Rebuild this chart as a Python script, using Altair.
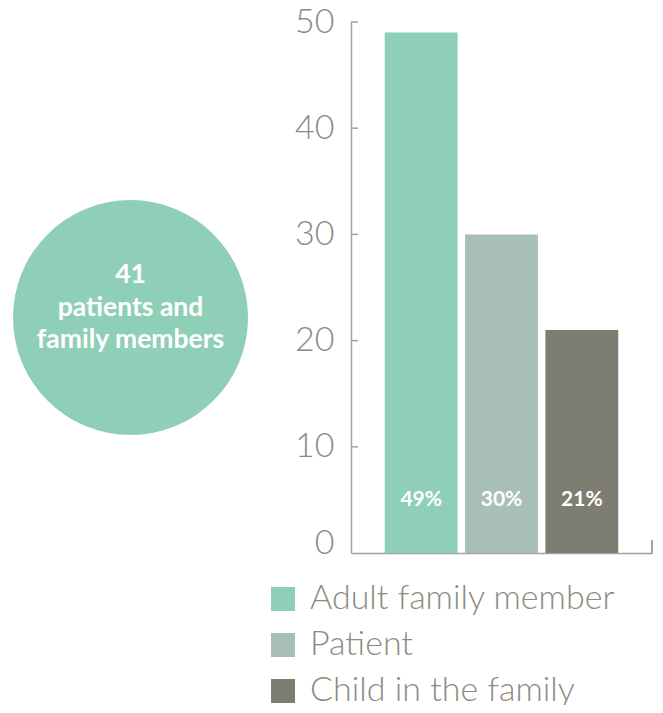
import altair as alt
import pandas as pd

categories = ["Adult family member", "Patient", "Child in the family"]
values = [49, 30, 21]
pct_labels = ["49%", "30%", "21%"]
colors = ["#8fcfb8", "#a8bfb7", "#7e7d71"]
circle_lines = ["41", "patients and", "family members"]
y_ticks = [0, 10, 20, 30, 40, 50]

AXIS_GREY = "#a3a399"
LABEL_GREY = "#8b8b7f"

df = pd.DataFrame({"category": categories, "value": values, "label": pct_labels})
ticks_df = pd.DataFrame({"value": y_ticks[1:]})
circle_df = pd.DataFrame({"caption": ["\n".join(circle_lines)]})

y_axis = alt.Axis(
    values=y_ticks,
    title=None,
    grid=False,
    ticks=False,
    labelPadding=17,
    labelFont="Lato",
    labelFontWeight=300,
    labelFontSize=34,
    labelColor=LABEL_GREY,
    domainColor=AXIS_GREY,
    domainWidth=1.5,
    labelBaseline=alt.condition("datum.value == 0", alt.value("alphabetic"), alt.value("middle")),
)
x_axis = alt.Axis(labels=False, ticks=False, title=None, domainColor=AXIS_GREY, domainWidth=1.5)

x_enc = alt.X("category:N", sort=categories,
              scale=alt.Scale(paddingInner=0.093, paddingOuter=0.42), axis=x_axis)
y_scale = alt.Scale(domain=[0, 50])

bars = alt.Chart(df).mark_bar().encode(
    x=x_enc,
    y=alt.Y("value:Q", scale=y_scale, axis=y_axis),
    color=alt.Color(
        "category:N", sort=categories,
        scale=alt.Scale(domain=categories, range=colors),
        legend=alt.Legend(
            title=None, orient="none", legendX=-85, legendY=560,
            symbolType="square", symbolSize=576, symbolStrokeWidth=0,
            labelFont="Lato", labelFontWeight=300, labelFontSize=34,
            labelColor=LABEL_GREY, labelOffset=10, rowPadding=12, labelLimit=400,
        ),
    ),
)

bar_text = alt.Chart(df).mark_text(
    color="white", font="Lato", fontWeight="bold", fontSize=21, baseline="middle"
).encode(
    x=x_enc,
    y=alt.datum(5),
    text="label:N",
)

tick_rules = alt.Chart(ticks_df).mark_rule(color=AXIS_GREY, strokeWidth=1.5).encode(
    y=alt.Y("value:Q", scale=y_scale, axis=y_axis),
    x=alt.value(0),
    x2=alt.value(7),
)

end_tick = alt.Chart(ticks_df).mark_rule(color=AXIS_GREY, strokeWidth=1.5).encode(
    x=alt.value(301), y=alt.value(518), y2=alt.value(531)
)

circle = alt.Chart(circle_df).mark_circle(size=55225, color="#8fcfb8", opacity=1).encode(
    x=alt.value(-220.5), y=alt.value(295.5)
)
circle_text = alt.Chart(circle_df).mark_text(
    color="white", font="Lato", fontWeight="bold", fontSize=26.5, lineHeight=32.5,
    lineBreak="\n", baseline="alphabetic", align="center"
).encode(
    x=alt.value(-220.5), y=alt.value(261), text="caption:N"
)

chart = alt.layer(circle, circle_text, bars, bar_text, tick_rules, end_tick).properties(
    width=301,
    height=531,
    padding={"left": 343, "top": 14, "right": 2, "bottom": 152},
    autosize=alt.AutoSizeParams(type="none"),
).configure_view(stroke=None)

chart.save("out.html", embed_options={"renderer": "svg", "actions": False})
